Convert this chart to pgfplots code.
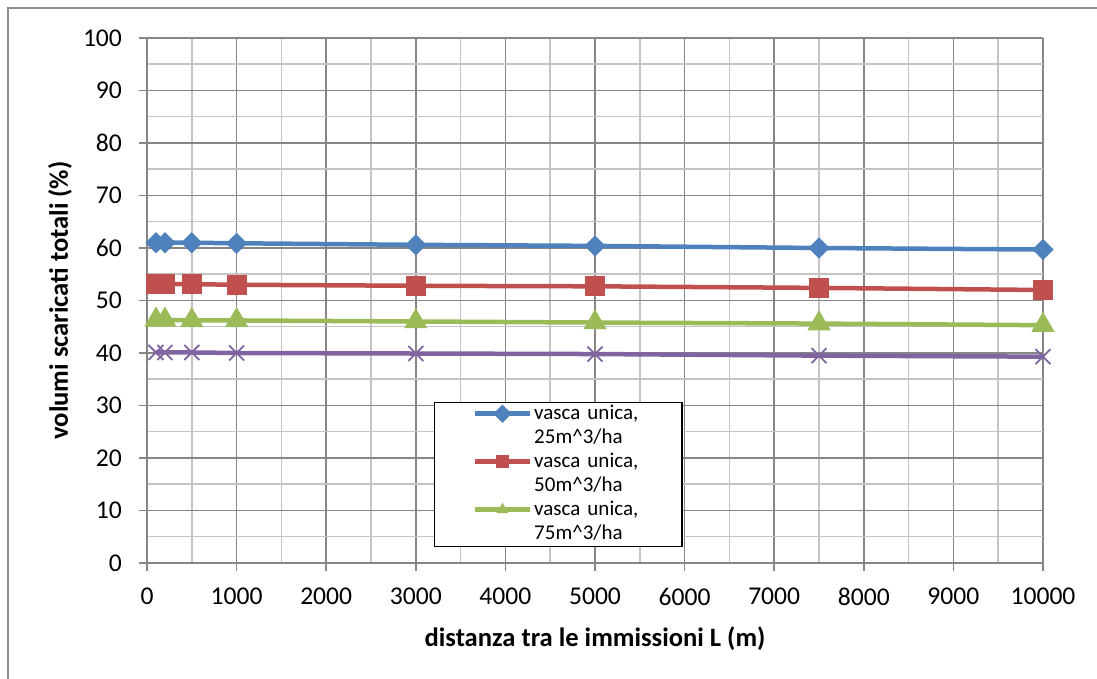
\documentclass[border=0pt]{standalone}
\usepackage{fontspec}
\setmainfont{Carlito}
\usepackage{pgfplots}
\pgfplotsset{compat=1.18}
\definecolor{cblue}{HTML}{4F81BD}
\definecolor{cred}{HTML}{C0504D}
\definecolor{cgreen}{HTML}{9BBB59}
\definecolor{cpurple}{HTML}{8064A2}
\definecolor{majgrid}{HTML}{868686}
\definecolor{mingrid}{HTML}{C4C4C4}
\definecolor{frame}{HTML}{8C8C8C}
\begin{document}
\begin{tikzpicture}
\useasboundingbox (-73.5pt,-58pt) rectangle (475pt,281.5pt);
\draw[frame, line width=0.6pt] (-69.5pt,-62pt) -- (-69.5pt,277.5pt) -- (480pt,277.5pt);
\begin{axis}[
  scale only axis, width=448pt, height=262.5pt,
  xmin=0, xmax=10000, ymin=0, ymax=100,
  xtick={0,1000,...,10000}, ytick={0,10,...,100},
  minor x tick num=1, minor y tick num=1,
  grid=both,
  major grid style={majgrid, line width=0.75pt},
  minor grid style={mingrid, line width=0.75pt},
  axis lines*=left,
  axis line style={majgrid, line width=0.75pt, -},
  tick style={majgrid, line width=0.75pt},
  major tick length=4pt, minor tick length=0pt,
  tick align=outside,
  scaled x ticks=false,
  /pgf/number format/set thousands separator={},
  /pgf/number format/assume math mode=true,
  ticklabel style={font=\fontsize{12.8}{14}\selectfont},
  xticklabel style={yshift=-5pt},
  yticklabel style={xshift=-5pt},
  xlabel={distanza tra le immissioni L (m)},
  ylabel={volumi scaricati totali (\%)},
  label style={font=\fontsize{13.3}{15}\selectfont\bfseries},
  xlabel style={at={(axis description cs:0.5,-0.145)}, anchor=center},
  ylabel style={at={(axis description cs:-0.097,0.5)}, anchor=center, rotate=0},
  legend style={at={(axis description cs:0.3203,0.3067)}, anchor=north west,
    draw=black, line width=0.75pt, fill=white, inner xsep=19pt, inner ysep=0pt,
    font=\fontsize{10.5}{12}\selectfont, row sep=0pt,
    nodes={text height=8.5pt, text depth=15.5pt, inner ysep=0pt, inner xsep=1pt},
    cells={anchor=west, align=left, text width=54pt}},
  legend image code/.code={%
    \draw[mark repeat=2, mark phase=2, #1, mark size=3pt]
      plot coordinates {(0pt,6.5pt) (13.75pt,6.5pt) (27.5pt,6.5pt)};},
]
\addplot[cblue, line width=2.25pt, mark=square*, mark size=3.5pt, mark options={rotate=45, solid, line width=0.5pt}]
 coordinates {(100,61.0) (200,61.0) (500,61.0) (1000,60.9) (3000,60.6) (5000,60.4) (7500,60.0) (10000,59.7)};
\addlegendentry{vasca unica, 25m\textasciicircum 3/ha}
\addplot[cred, line width=2.25pt, mark=square*, mark size=4.8pt, mark options={solid, line width=0.5pt}]
 coordinates {(100,53.1) (200,53.1) (500,53.1) (1000,53.0) (3000,52.8) (5000,52.7) (7500,52.4) (10000,52.0)};
\addlegendentry{vasca unica, 50m\textasciicircum 3/ha}
\addplot[cgreen, line width=2.25pt, mark=triangle*, mark size=6.2pt, mark options={solid, line width=0.5pt}]
 coordinates {(100,46.3) (200,46.3) (500,46.2) (1000,46.2) (3000,46.0) (5000,45.8) (7500,45.6) (10000,45.3)};
\addlegendentry{vasca unica, 75m\textasciicircum 3/ha}
\addplot[cpurple, line width=2.25pt, mark=x, mark size=5.3pt, mark options={solid, line width=0.9pt}, forget plot]
 coordinates {(100,40.1) (200,40.1) (500,40.1) (1000,40.0) (3000,39.9) (5000,39.8) (7500,39.5) (10000,39.3)};
\end{axis}
\end{tikzpicture}
\end{document}
